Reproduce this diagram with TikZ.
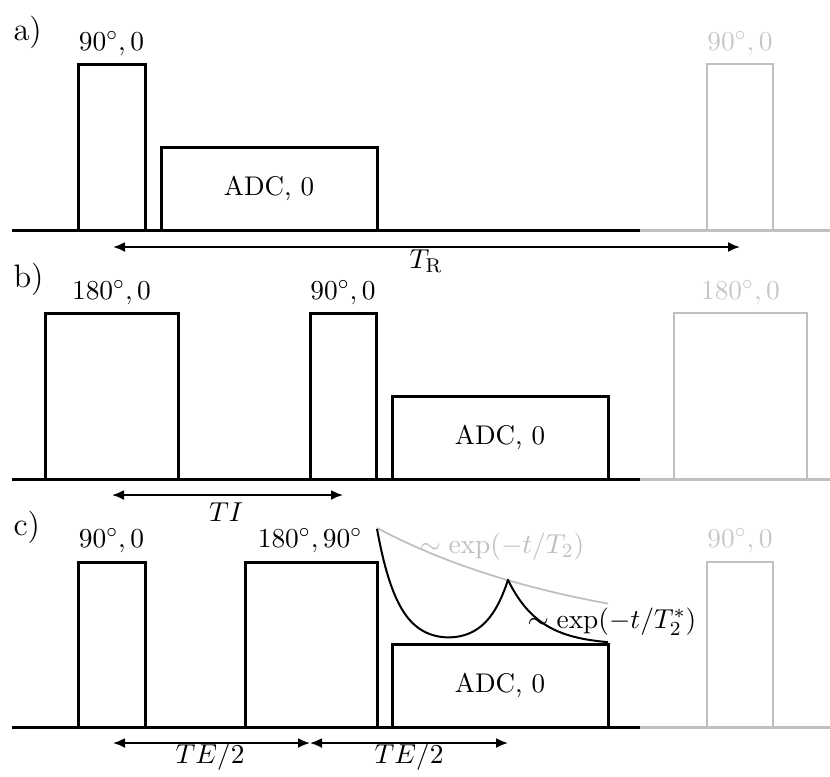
\documentclass[tikz,border=0pt]{standalone}
\usetikzlibrary{fit,arrows.meta}
\begin{document}
\begin{tikzpicture}[x=0.4pt,y=-0.4pt,
  font=\fontsize{10.8}{13}\selectfont,
  pulse/.style={draw, line width=1.2pt, inner sep=0pt, outer sep=0pt},
  ghost/.style={draw=black!25, line width=1pt, inner sep=0pt, outer sep=0pt},
  baseblack/.style={line width=1.2pt},
  basegray/.style={line width=1.2pt, draw=black!25},
  span/.style={line width=0.8pt, {Latex[length=4.8pt,width=4pt]}-{Latex[length=4.8pt,width=4pt]}},
  lbl/.style={anchor=base, inner sep=0pt},
  glbl/.style={anchor=base, inner sep=0pt, text=black!22},
  panel/.style={anchor=base west, inner sep=0pt, font=\fontsize{13}{15}\selectfont}]
\useasboundingbox (0,0) rectangle (830,776);

% ---------- panel a ----------
\node[panel] (la) at (13,40) {a)};
\coordinate (a0) at (12,230); \coordinate (a1) at (640,230); \coordinate (a2) at (830,230);
\draw[baseblack] (a0) -- (a1);
\draw[basegray] (a1) -- (a2);
\node[pulse, fit={(78,64)(145,230)}] (ap90) {};
\node[pulse, fit={(161,147)(377,230)}] (aadc) {};
\node (aadct) at (aadc.center) {ADC, 0};
\node[ghost, fit={(707,64)(773,230)}] (ag90) {};
\node[lbl] (ap90l) at (111.5,50) {$90^\circ, 0$};
\node[glbl] (ag90l) at (740,50) {$90^\circ, 0$};
\coordinate (trL) at (113,247); \coordinate (trR) at (740,247);
\draw[span] (trL) -- (trR);
\node[lbl] (trl) at (426,268) {$T_{\mathrm{R}}$};

% ---------- panel b ----------
\node[panel] (lb) at (13,287) {b)};
\coordinate (b0) at (12,479); \coordinate (b1) at (640,479); \coordinate (b2) at (830,479);
\draw[baseblack] (b0) -- (b1);
\draw[basegray] (b1) -- (b2);
\node[pulse, fit={(45,313)(178,479)}] (bp180) {};
\node[pulse, fit={(310,313)(376,479)}] (bp90) {};
\node[pulse, fit={(392,396)(608,479)}] (badc) {};
\node (badct) at (badc.center) {ADC, 0};
\node[ghost, fit={(674,313)(807,479)}] (bg180) {};
\node[lbl] (bp180l) at (111.5,299) {$180^\circ, 0$};
\node[lbl] (bp90l) at (343,299) {$90^\circ, 0$};
\node[glbl] (bg180l) at (740.5,299) {$180^\circ, 0$};
\coordinate (tiL) at (112,495); \coordinate (tiR) at (343,495);
\draw[span] (tiL) -- (tiR);
\node[lbl] (til) at (226,521) {$TI$};

% ---------- panel c ----------
\node[panel] (lc) at (13,535) {c)};
\coordinate (c0) at (12,727); \coordinate (c1) at (640,727); \coordinate (c2) at (830,727);
\draw[baseblack] (c0) -- (c1);
\draw[basegray] (c1) -- (c2);
\node[pulse, fit={(78,562)(145,727)}] (cp90) {};
\node[pulse, fit={(245,562)(377,727)}] (cp180) {};
\node[pulse, fit={(392,644)(608,727)}] (cadc) {};
\node (cadct) at (cadc.center) {ADC, 0};
\node[ghost, fit={(707,562)(773,727)}] (cg90) {};
\node[lbl] (cp90l) at (111.5,547) {$90^\circ, 0$};
\node[lbl] (cp180l) at (310,547) {$180^\circ, 90^\circ$};
\node[glbl] (cg90l) at (740,547) {$90^\circ, 0$};
\coordinate (teL) at (113,743); \coordinate (teM) at (310,743); \coordinate (teR) at (508,743);
\draw[span] (teL) -- (teM);
\draw[span] (teM) -- (teR);
\node[lbl] (te1) at (210,763) {$TE/2$};
\node[lbl] (te2) at (409,763) {$TE/2$};

% decay curves
\draw[black!25, line width=0.7pt] plot[domain=377:608, samples=60]
  (\x, {644 - 116*exp(-(\x-377)/219)});
\draw[line width=0.8pt, line join=round] plot[domain=377:508, samples=120]
  (\x, {645 - 116*exp(-(\x-377)/21) - 65*exp(-(508-\x)/21)})
  -- plot[domain=508:608, samples=80]
  (\x, {645 - 65*exp(-(\x-508)/32)});
\node[inner sep=0pt, text=black!25] (t2l) at (502,547) {$\sim\exp(-t/T_2)$};
\node[inner sep=0pt] (t2sl) at (612,622) {$\sim\exp(-t/T_2^*)$};
\end{tikzpicture}
\end{document}
